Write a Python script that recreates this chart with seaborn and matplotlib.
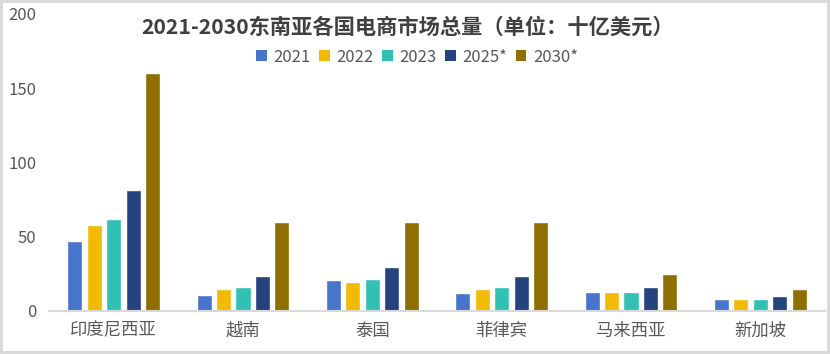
import pandas as pd
import matplotlib.pyplot as plt
import seaborn as sns
from matplotlib.patches import Patch, Rectangle

# Data (units: billion USD)
countries = ['印度尼西亚', '越南', '泰国', '菲律宾', '马来西亚', '新加坡']
years = ['2021', '2022', '2023', '2025*', '2030*']
v2021 = [47, 10.5, 20.5, 12, 12.5, 7.7]
v2022 = [57.5, 14.5, 19.2, 14.5, 12.5, 7.7]
v2023 = [61.5, 16, 21.2, 16, 12.5, 7.7]
v2025 = [81, 23.2, 29.3, 23.2, 16, 9.8]
v2030 = [160, 60, 60, 60, 24.6, 14.5]
colors = ['#4874CB', '#F2BA02', '#31C0B3', '#25437F', '#8F6F00']

# Long-form table for seaborn
rows = []
for yr, vals in zip(years, [v2021, v2022, v2023, v2025, v2030]):
    for c, v in zip(countries, vals):
        rows.append({'country': c, 'year': yr, 'value': v})
df = pd.DataFrame(rows)

sns.set_style('white')
plt.rcParams['font.family'] = ['Noto Sans CJK SC', 'DejaVu Sans']

fig = plt.figure(figsize=(8.3, 3.54), dpi=100)
ax = fig.add_axes([49 / 830, 1 - 310.5 / 354, 776 / 830, (310.5 - 14) / 354])

sns.barplot(data=df, x='country', y='value', hue='year', order=countries,
            hue_order=years, palette=colors, width=0.75, gap=0.22,
            saturation=1, legend=False, ax=ax)

ax.set_ylim(0, 200)
ax.set_yticks([0, 50, 100, 150, 200])
ax.set_xlim(-0.5, len(countries) - 0.5)
ax.set_xlabel('')
ax.set_ylabel('')
ax.tick_params(axis='both', length=0, colors='#595959')
ax.tick_params(axis='y', pad=9, labelsize=12)
ax.tick_params(axis='x', pad=8, labelsize=12.5)

# Spines: only a light gray baseline
for s in ['top', 'right', 'left']:
    ax.spines[s].set_visible(False)
ax.spines['bottom'].set_color('#D9D9D9')
ax.spines['bottom'].set_linewidth(1.5)

# Title and legend
fig.text(408 / 830, 1 - 27 / 354, '2021-2030东南亚各国电商市场总量（单位：十亿美元）',
         ha='center', va='center', fontsize=15.3, fontweight='bold', color='#404040')
handles = [Patch(facecolor=c, edgecolor='none') for c in colors]
fig.legend(handles, years, loc='center', bbox_to_anchor=(417 / 830, 1 - 57 / 354),
           ncol=5, frameon=False, fontsize=12, handlelength=0.65, handleheight=0.65,
           handletextpad=0.4, columnspacing=0.5, labelcolor='#595959')

# Light gray chart border
fig.add_artist(Rectangle((0, 0), 1, 1, transform=fig.transFigure, fill=False,
                         edgecolor='#D9D9D9', linewidth=4.3))

fig.savefig('out.png', dpi=100)
